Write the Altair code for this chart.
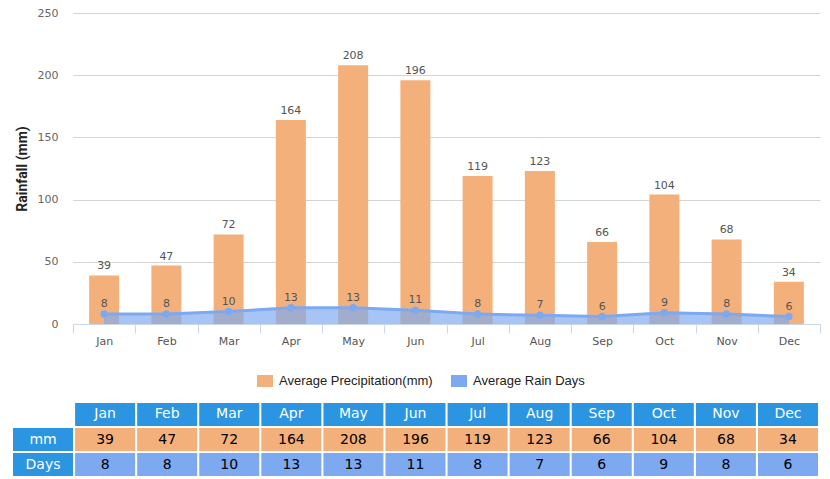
import altair as alt
import pandas as pd

months = ["Jan", "Feb", "Mar", "Apr", "May", "Jun", "Jul", "Aug", "Sep", "Oct", "Nov", "Dec"]
precip = [39, 47, 72, 164, 208, 196, 119, 123, 66, 104, 68, 34]
days = [8, 8, 10, 13, 13, 11, 8, 7, 6, 9, 8, 6]
series = ["Average Precipitation(mm)", "Average Rain Days"]
row_labels = ["mm", "Days"]
y_ticks = [0, 50, 100, 150, 200, 250]

ORANGE = "#F4B07B"
BLUE = "#7CA9F0"
HDR = "#2B95E1"

df = pd.DataFrame({"month": months, "precip": precip, "days": days})

# table data built from the arrays
rows = []
for m in months:
    rows.append({"row": "hdr", "col": m, "text": m, "kind": "hdr"})
for m, v in zip(months, precip):
    rows.append({"row": "mm", "col": m, "text": str(v), "kind": "mm"})
for m, v in zip(months, days):
    rows.append({"row": "Days", "col": m, "text": str(v), "kind": "Days"})
for r in row_labels:
    rows.append({"row": r, "col": "_", "text": r, "kind": "hdr"})
tdf = pd.DataFrame(rows)

x_top = alt.X(
    "month:N",
    sort=months,
    scale=alt.Scale(domain=months, paddingInner=0, paddingOuter=0),
    axis=alt.Axis(
        title=None, tickBand="extent", tickSize=9, tickColor="#ccd6eb",
        domainColor="#ccd6eb", labelAngle=0, labelFont="DejaVu Sans",
        labelFontSize=11, labelColor="#555555", labelPadding=2,
        offset=-152, grid=False,
    ),
)
y_scale = alt.Scale(domain=[0, 250], range=[311, 0], nice=False, zero=True)
y_axis = alt.Axis(
    title="Rainfall (mm)", values=y_ticks, ticks=False, tickSize=0, domain=False,
    grid=True, gridColor="#d4d4d4", labelFont="DejaVu Sans", labelFontSize=11,
    labelColor="#666666", labelPadding=15, titlePadding=8, titleFont="Roboto",
    titleFontSize=14, titleFontWeight="bold", titleColor="#222222",
)
color_scale = alt.Scale(domain=series, range=[ORANGE, BLUE])
legend = alt.Legend(
    title=None, orient="none", legendX=184, legendY=360, direction="horizontal",
    labelFont="Liberation Sans", labelFontSize=13, labelColor="#222222",
    labelOffset=6, columnPadding=18, padding=0, symbolOpacity=1,
    symbolType="M-1,-0.75H1V0.75H-1Z", symbolSize=256, symbolStrokeWidth=0,
)

base = alt.Chart(df)
prec_base = base.transform_calculate(series=f"'{series[0]}'")
days_base = base.transform_calculate(series=f"'{series[1]}'")
col_prec = alt.Color("series:N", scale=color_scale, legend=legend)
col_days = alt.Color("series:N", scale=color_scale)

bars = prec_base.mark_bar(width=30).encode(
    x=x_top,
    y=alt.Y("precip:Q", scale=y_scale, axis=y_axis),
    color=col_prec,
)
area = base.mark_area(opacity=0.68, color=BLUE).encode(
    x=x_top, y=alt.Y("days:Q", scale=y_scale),
)
line = base.mark_line(strokeWidth=3, color=BLUE).encode(
    x=x_top, y=alt.Y("days:Q", scale=y_scale),
)
points = days_base.mark_point(filled=True, size=55, opacity=1).encode(
    x=x_top, y=alt.Y("days:Q", scale=y_scale), color=col_days,
)
bar_labels = base.mark_text(dy=-9, font="DejaVu Sans", fontSize=11, color="#555555").encode(
    x=x_top, y=alt.Y("precip:Q", scale=y_scale), text="precip:Q"
)
day_labels = base.mark_text(dy=-10, font="DejaVu Sans", fontSize=11, color="#555555").encode(
    x=x_top, y=alt.Y("days:Q", scale=y_scale), text="days:Q"
)
top = alt.layer(bars, area, line, points, bar_labels, day_labels)

tx = alt.X("col:N", scale=alt.Scale(domain=["_"] + months, range=[-60, 745],
                                   paddingInner=0.033, paddingOuter=0), axis=None)
ty = alt.Y("row:N", scale=alt.Scale(domain=["hdr", "mm", "Days"], range=[390, 463],
                                   paddingInner=0.085, paddingOuter=0), axis=None)
tbase = alt.Chart(tdf)
cells = tbase.mark_rect().encode(
    x=tx, y=ty,
    color=alt.Color("kind:N", scale=alt.Scale(domain=["hdr", "mm", "Days"],
                                              range=[HDR, ORANGE, BLUE]), legend=None),
)
texts = tbase.mark_text(font="DejaVu Sans", fontSize=14).encode(
    x=tx, y=ty, text="text:N",
    color=alt.condition(alt.datum.kind == "hdr", alt.value("white"), alt.value("black")),
)
table = alt.layer(cells, texts)

chart = (
    alt.layer(top, table)
    .resolve_scale(x="independent", y="independent", color="independent")
    .properties(
        width=747, height=463,
        autosize=alt.AutoSizeParams(type="none"),
        padding={"left": 65, "top": 5, "right": 2, "bottom": 2},
    )
    .configure_view(stroke=None)
)

chart.save("out.html", embed_options={"renderer": "svg", "actions": False})
